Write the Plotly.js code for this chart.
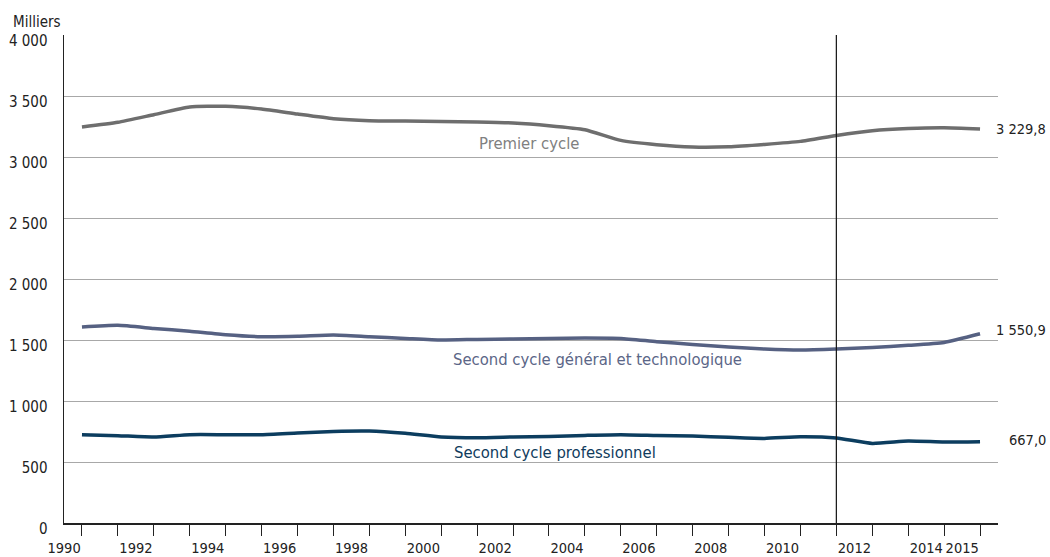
<!DOCTYPE html>
<html>
<head>
<meta charset="utf-8">
<script src="https://cdn.plot.ly/plotly-3.0.1.min.js"></script>
<style>
html,body{margin:0;padding:0;background:#fff;}
#chart{width:1050px;height:557px;}
</style>
</head>
<body>
<div id="chart"></div>
<script>
const years = [1990,1991,1992,1993,1994,1995,1996,1997,1998,1999,2000,2001,2002,2003,2004,2005,2006,2007,2008,2009,2010,2011,2012,2013,2014,2015];
const premierCycle = [3246,3284,3347,3410,3415,3393,3352,3314,3298,3295,3292,3287,3279,3257,3224,3136,3101,3082,3084,3103,3128,3177,3216,3234,3240,3229.8];
const secondGT = [1607,1620,1595,1571,1543,1527,1530,1541,1527,1513,1500,1505,1508,1513,1516,1513,1486,1464,1443,1426,1418,1426,1439,1456,1480,1550.9];
const secondPro = [724,716,705,724,724,724,738,751,754,735,705,699,705,710,718,724,718,713,702,693,707,697,652,672,664,667.0];
const tickLabels = years.map(y => (y % 2 === 0 || y === 2015) ? String(y) : '');
const yTicks = [0,500,1000,1500,2000,2500,3000,3500,4000];
const yTickText = ['0','500','1 000','1 500','2 000','2 500','3 000','3 500','4 000'];
const seriesNames = ['Premier cycle','Second cycle général et technologique','Second cycle professionnel'];
const endLabels = ['3 229,8','1 550,9','667,0'];
const breakYear = 2011;

const FONT = '"DejaVu Sans Condensed", "Liberation Sans Narrow", Roboto, sans-serif';
const colors = ['#6e6e6e','#566182','#0c3d5f'];
const labelColors = ['#808080','#5b6687','#0f3b5c'];
const allSeries = [premierCycle, secondGT, secondPro];

const traces = allSeries.map((s,i) => ({
  x: years, y: s, type: 'scatter', mode: 'lines', name: seriesNames[i],
  line: {color: colors[i], width: 3.5, shape: 'spline', smoothing: 0.5},
  hoverinfo: 'x+y'
}));

const layout = {
  width: 1050, height: 557,
  margin: {l: 63.5, r: 52, t: 35, b: 34},
  paper_bgcolor: '#fff', plot_bgcolor: '#fff',
  showlegend: false,
  font: {family: FONT, size: 15, color: '#222'},
  xaxis: {
    range: [1989.5, 2015.5],
    tickmode: 'array', tickvals: years, ticktext: tickLabels,
    ticks: 'outside', ticklen: 11, tickwidth: 1, tickcolor: '#222',
    ticklabelposition: 'outside left', tickangle: 0, ticklabelstandoff: 11,
    showline: true, linecolor: '#222', linewidth: 1.5,
    showgrid: false, zeroline: false,
    tickfont: {family: FONT, size: 14.5, color: '#222'}
  },
  yaxis: {
    range: [0, 4000],
    tickmode: 'array', tickvals: yTicks, ticktext: yTickText,
    ticks: '', ticklabelstandoff: 12, ticklabelshift: 6,
    showline: true, linecolor: '#222', linewidth: 1.5,
    showgrid: true, gridcolor: '#a8a8a8', gridwidth: 1,
    zeroline: false,
    tickfont: {family: FONT, size: 15, color: '#222'}
  },
  shapes: [
    {type: 'line', xref: 'x', yref: 'y', x0: breakYear, x1: breakYear, y0: 0, y1: 4000,
     line: {color: '#111', width: 1.2}}
  ],
  annotations: [
    {xref: 'paper', yref: 'paper', x: -0.057, y: 1.027, xanchor: 'left', yanchor: 'middle',
     text: 'Milliers', showarrow: false, font: {family: FONT, size: 15, color: '#222'}},
    {xref: 'x', yref: 'y', x: 2002.45, y: 3109, text: seriesNames[0], showarrow: false,
     xanchor: 'center', yanchor: 'middle', font: {family: FONT, size: 16.5, color: labelColors[0]}},
    {xref: 'x', yref: 'y', x: 2004.34, y: 1338, text: seriesNames[1], showarrow: false,
     xanchor: 'center', yanchor: 'middle', font: {family: FONT, size: 16.5, color: labelColors[1]}},
    {xref: 'x', yref: 'y', x: 2003.16, y: 576, text: seriesNames[2], showarrow: false,
     xanchor: 'center', yanchor: 'middle', font: {family: FONT, size: 16.5, color: labelColors[2]}},
    {xref: 'paper', yref: 'y', x: 1.053, y: premierCycle[25], text: endLabels[0], showarrow: false,
     xanchor: 'right', yanchor: 'middle', font: {family: FONT, size: 14.5, color: '#222'}},
    {xref: 'paper', yref: 'y', x: 1.053, y: secondGT[25] + 30, text: endLabels[1], showarrow: false,
     xanchor: 'right', yanchor: 'middle', font: {family: FONT, size: 14.5, color: '#222'}},
    {xref: 'paper', yref: 'y', x: 1.053, y: secondPro[25] + 15, text: endLabels[2], showarrow: false,
     xanchor: 'right', yanchor: 'middle', font: {family: FONT, size: 14.5, color: '#222'}}
  ]
};

Plotly.newPlot('chart', traces, layout, {displayModeBar: false, staticPlot: true});
</script>
</body>
</html>
